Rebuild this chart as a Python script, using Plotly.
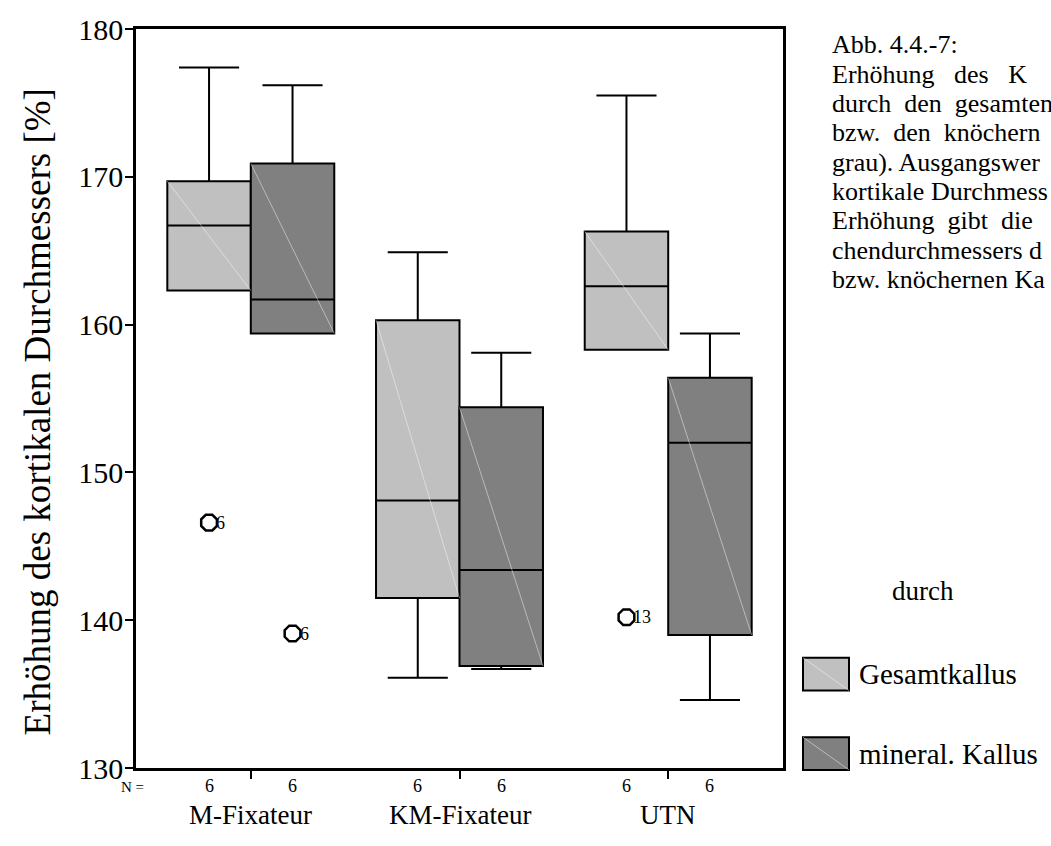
import plotly.graph_objects as go

# ---- data -------------------------------------------------------------
groups = ["M-Fixateur", "KM-Fixateur", "UTN"]
n_gesamt = [6, 6, 6]
n_mineral = [6, 6, 6]

# Gesamtkallus (light grey boxes)
gesamt_upper = [177.4, 164.9, 175.5]
gesamt_q3 = [169.7, 160.3, 166.3]
gesamt_median = [166.7, 148.1, 162.6]
gesamt_q1 = [162.3, 141.5, 158.3]
gesamt_lower = [162.3, 136.1, 158.3]
gesamt_out_group = [0, 2]
gesamt_out_value = [146.6, 140.2]
gesamt_out_case = ["6", "13"]

# mineral. Kallus (dark grey boxes)
mineral_upper = [176.2, 158.1, 159.4]
mineral_q3 = [170.9, 154.4, 156.4]
mineral_median = [161.7, 143.4, 152.0]
mineral_q1 = [159.4, 136.9, 139.0]
mineral_lower = [159.4, 136.7, 134.6]
mineral_out_group = [0]
mineral_out_value = [139.1]
mineral_out_case = ["6"]

y_ticks = [130, 140, 150, 160, 170, 180]

NB = "\u00a0"
caption_lines = [
    "Abb. 4.4.-7:",
    "Erhöhung" + NB * 3 + "des" + NB * 3 + "K",
    "durch" + NB * 2 + "den" + NB * 2 + "gesamten",
    "bzw." + NB * 2 + "den" + NB * 2 + "knöchern",
    "grau). Ausgangswer",
    "kortikale Durchmess",
    "Erhöhung" + NB * 2 + "gibt" + NB * 2 + "die",
    "chendurchmessers d",
    "bzw. knöchernen Ka",
]

# ---- layout geometry ------------------------------------------------------
W, H = 1051, 846
L, R, T, B = 136, 783, 24, 768
FONT = "Liberation Serif, Times New Roman, serif"
LIGHT, DARK = "#c0c0c0", "#808080"
OFFSET, BOXW = 0.2, 0.4
N_ROW_Y, CAT_ROW_Y = 786, 815


def px_x(x):
    return (x - L) / (R - L)


def px_y(y):
    return (B - y) / (B - T)


def text(x, y, s, size, xref="paper", xanchor="center", angle=0):
    fig.add_annotation(x=x, y=px_y(y), xref=xref, yref="paper", text=s,
                       showarrow=False, xanchor=xanchor, yanchor="middle",
                       textangle=angle,
                       font=dict(family=FONT, size=size, color="black"))


fig = go.Figure()


def add_series(name, sign, fill, upper, q3, med, q1, lower, og, ov, oc, n):
    xs = [i + sign * OFFSET for i in range(len(groups))]
    fig.add_trace(go.Box(
        name=name, x=xs, q1=q1, median=med, q3=q3,
        lowerfence=lower, upperfence=upper,
        width=BOXW, whiskerwidth=0.72, boxpoints=False,
        fillcolor=fill, line=dict(color="black", width=2),
        showlegend=False, hoverinfo="skip",
    ))
    # faint diagonal sheen across each box
    for x, top, bot in zip(xs, q3, q1):
        fig.add_shape(type="line", xref="x", yref="y",
                      x0=x - BOXW / 2, y0=top, x1=x + BOXW / 2, y1=bot,
                      line=dict(color="rgba(255,255,255,0.45)", width=1),
                      layer="above")
    ox = [g + sign * OFFSET for g in og]
    fig.add_trace(go.Scatter(
        x=ox, y=ov, mode="markers",
        marker=dict(symbol="octagon-open", size=17,
                    line=dict(color="black", width=2.5), color="black"),
        showlegend=False, hoverinfo="skip", cliponaxis=False,
    ))
    for x, v, c in zip(ox, ov, oc):
        fig.add_annotation(x=x, y=v, xref="x", yref="y", text=c,
                           showarrow=False, xanchor="left", yanchor="middle",
                           xshift=5,
                           font=dict(family=FONT, size=18, color="black"))
    for x, cnt in zip(xs, n):
        text(x, N_ROW_Y, str(cnt), 18, xref="x")


add_series("Gesamtkallus", -1, LIGHT, gesamt_upper, gesamt_q3, gesamt_median,
           gesamt_q1, gesamt_lower, gesamt_out_group, gesamt_out_value,
           gesamt_out_case, n_gesamt)
add_series("mineral. Kallus", 1, DARK, mineral_upper, mineral_q3, mineral_median,
           mineral_q1, mineral_lower, mineral_out_group, mineral_out_value,
           mineral_out_case, n_mineral)

# category labels and the N row
for i, g in enumerate(groups):
    text(i, CAT_ROW_Y, g, 27, xref="x")
text(px_x(132), N_ROW_Y + 1, "N =", 15)

# y axis title
text(px_x(37), 410, "Erhöhung des kortikalen Durchmessers [%]", 37, angle=-90)

# caption text on the right
for k, line in enumerate(caption_lines):
    text(px_x(830), 40 + 29.5 * k, line, 26, xanchor="left")

# legend
text(px_x(890), 590, "durch", 27, xanchor="left")
for name, fill, top, bot in [("Gesamtkallus", LIGHT, 657, 690),
                             ("mineral. Kallus", DARK, 737, 770)]:
    fig.add_shape(type="rect", xref="paper", yref="paper",
                  x0=px_x(803), x1=px_x(849), y0=px_y(bot), y1=px_y(top),
                  fillcolor=fill, line=dict(color="black", width=2))
    fig.add_shape(type="line", xref="paper", yref="paper",
                  x0=px_x(803), x1=px_x(849), y0=px_y(top), y1=px_y(bot),
                  line=dict(color="rgba(255,255,255,0.45)", width=1))
    text(px_x(857), (top + bot) / 2, name, 29, xanchor="left")

fig.update_layout(
    width=W, height=H,
    margin=dict(l=L, r=W - R, t=T, b=H - B),
    paper_bgcolor="white", plot_bgcolor="white",
    boxmode="overlay",
    font=dict(family=FONT, color="black"),
    xaxis=dict(range=[-0.55, 2.55], tickvals=list(range(len(groups))),
               showticklabels=False, ticks="outside", ticklen=8, tickwidth=2,
               tickcolor="black", showgrid=False, zeroline=False,
               showline=True, linecolor="black", linewidth=2.5, mirror=True,
               fixedrange=True),
    yaxis=dict(range=[130, 180], tickvals=y_ticks, ticks="outside",
               ticklen=8, tickwidth=2, tickcolor="black", showgrid=False,
               zeroline=False, showline=True, linecolor="black",
               linewidth=2.5, mirror=True, ticklabelstandoff=-4,
               tickfont=dict(family=FONT, size=30, color="black"),
               fixedrange=True),
)

fig.write_html("out.html")
